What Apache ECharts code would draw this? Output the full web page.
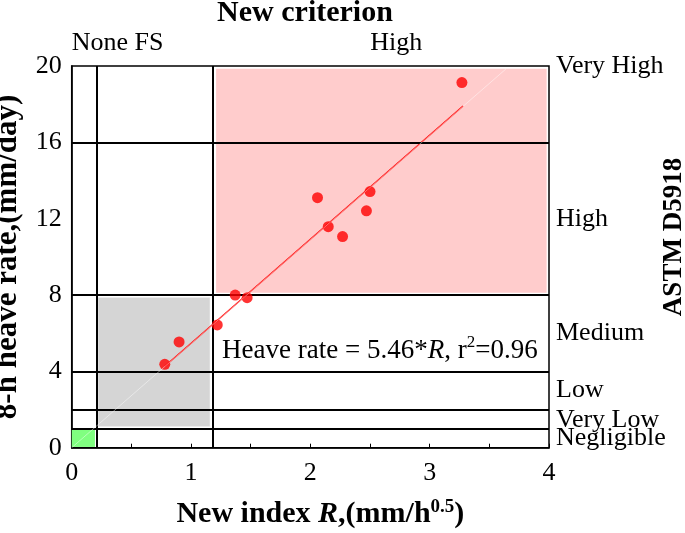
<!DOCTYPE html>
<html><head><meta charset="utf-8">
<script src="https://cdn.jsdelivr.net/npm/echarts@6/dist/echarts.min.js"></script>
<style>html,body{margin:0;padding:0;background:#fff}#c{width:685px;height:533px}</style>
</head><body><div id="c"></div>
<script>
// ---- data ----
const indexR    = [0.78, 0.90, 1.22, 1.37, 1.47, 2.06, 2.15, 2.27, 2.47, 2.50, 3.27];
const heaveRate = [4.37, 5.54, 6.43, 8.00, 7.86, 13.10, 11.58, 11.06, 12.41, 13.42, 19.13];
const fitX = [0.78, 3.28];
const fitY = [4.27, 17.91];
const guideX = [0.0, 3.64];
const guideY = [0.0, 19.85];
const xTicks = [0, 1, 2, 3, 4];
const yTicks = [0, 4, 8, 12, 16, 20];
const astmBounds = [1, 2, 4, 8, 16];
const criterionBounds = [0.21, 1.18];
const astmClasses = ['Very High', 'High', 'Medium', 'Low', 'Very Low', 'Negligible'];
const astmLabelY  = [20, 12, 6, 3, 1.45, 0.5];
const criterionClasses = ['None FS', 'High'];
const criterionLabelX  = [0, 2.72];
const highZoneX  = [1.21, 3.98];
const highZoneY  = [8.12, 19.85];
const grayZoneX  = [0.22, 1.16];
const grayZoneY  = [1.10, 7.88];
const greenZoneX = [0.0, 0.195];
const greenZoneY = [0.04, 0.93];
const eqPos = [1.26, 5.17];

const FONT = 'Liberation Serif';
const chart = echarts.init(document.getElementById('c'), null, {renderer: 'canvas'});

function area(xs, ys) { return [[{coord: [xs[0], ys[0]]}, {coord: [xs[1], ys[1]]}]]; }

const option = {
  animation: false,
  backgroundColor: '#fff',
  title: {
    text: 'New criterion', left: 305, top: -2, textAlign: 'center', padding: 0,
    textStyle: {fontFamily: FONT, fontSize: 30, fontWeight: 'bold', color: '#000'}
  },
  grid: {left: 71.7, right: 136, top: 66, bottom: 85.3, show: true, borderColor: '#000', borderWidth: 1.5,
    backgroundColor: 'transparent', containLabel: false, outerBoundsMode: 'none'},
  xAxis: {
    type: 'value', min: 0, max: 4, interval: 0.5,
    axisLine: {show: true, lineStyle: {color: '#000', width: 1.5}},
    axisTick: {show: true, inside: true, length: 4, lineStyle: {color: '#000', width: 1}},
    splitLine: {show: false},
    axisLabel: {
      interval: 0, margin: 12, color: '#000', fontFamily: FONT, fontSize: 26,
      formatter: v => xTicks.includes(v) ? String(v) : ''
    },
    name: '{b|New index }{bi|R}{b|,(mm/h}{sup|0.5}{b|)}',
    nameLocation: 'middle', nameGap: 50,
    nameTextStyle: {
      color: '#000', padding: [0, 0, 0, 20],
      rich: {
        b:   {fontFamily: FONT, fontSize: 30, fontWeight: 'bold', color: '#000', lineHeight: 32, verticalAlign: 'bottom'},
        bi:  {fontFamily: FONT, fontSize: 30, fontWeight: 'bold', fontStyle: 'italic', color: '#000', lineHeight: 32, verticalAlign: 'bottom'},
        sup: {fontFamily: FONT, fontSize: 19, fontWeight: 'bold', color: '#000', lineHeight: 32, verticalAlign: 'top'}
      }
    }
  },
  yAxis: {
    type: 'value', min: 0, max: 20, interval: 4,
    axisLine: {show: true, lineStyle: {color: '#000', width: 1.5}},
    axisTick: {show: false},
    splitLine: {show: false},
    axisLabel: {margin: 10, color: '#000', fontFamily: FONT, fontSize: 26,
      formatter: v => yTicks.includes(v) ? String(v) : ''},
    name: '8-h heave rate,(mm/day)', nameLocation: 'middle', nameGap: 48, nameRotate: 90,
    nameTextStyle: {fontFamily: FONT, fontSize: 31, fontWeight: 'bold', color: '#000'}
  },
  series: [
    {
      name: 'green', type: 'scatter', data: [], z: 1, silent: true,
      markArea: {silent: true, itemStyle: {color: '#80ff80'}, data: area(greenZoneX, greenZoneY)}
    },
    {
      name: 'bounds', type: 'scatter', data: [], z: 2, silent: true,
      markLine: {
        silent: true, symbol: 'none', label: {show: false},
        lineStyle: {color: '#000', width: 2, type: 'solid'},
        data: astmBounds.map(v => ({yAxis: v})).concat(criterionBounds.map(v => ({xAxis: v})))
      }
    },
    {
      name: 'highZone', type: 'scatter', data: [], z: 3, silent: true,
      markArea: {silent: true, itemStyle: {color: 'rgba(255,0,0,0.2)'}, data: area(highZoneX, highZoneY)}
    },
    {
      name: 'fit', type: 'line', z: 4, symbol: 'none', silent: true,
      lineStyle: {color: '#ff0000', width: 1.3},
      data: fitX.map((x, i) => [x, fitY[i]])
    },
    {
      name: 'data', type: 'scatter', z: 5, symbol: 'circle', symbolSize: 11,
      itemStyle: {color: '#ff0000'},
      data: indexR.map((x, i) => [x, heaveRate[i]])
    },
    {
      name: 'grayZone', type: 'scatter', data: [], z: 6, silent: true,
      markArea: {silent: true, itemStyle: {color: 'rgba(154,156,155,0.42)', borderColor: 'rgba(255,255,255,0.5)', borderWidth: 1}, data: area(grayZoneX, grayZoneY)}
    },
    {
      name: 'guide', type: 'line', z: 7, symbol: 'none', silent: true,
      lineStyle: {color: 'rgba(255,255,255,0.45)', width: 1},
      data: guideX.map((x, i) => [x, guideY[i]])
    }
  ]
};
chart.setOption(option);

const px = (x, y) => chart.convertToPixel({gridIndex: 0}, [x, y]);
const graphics = [];
const xRight = px(4, 0)[0];
astmClasses.forEach((t, i) => {
  const p = px(4, astmLabelY[i]);
  graphics.push({type: 'text', x: xRight + 7, y: p[1], z: 100,
    style: {text: t, font: '26px "' + FONT + '"', fill: '#000', textAlign: 'left', textVerticalAlign: 'middle'}});
});
const yTop = px(0, 20)[1];
criterionClasses.forEach((t, i) => {
  const p = px(criterionLabelX[i], 20);
  graphics.push({type: 'text', x: p[0], y: yTop - 23, z: 100,
    style: {text: t, font: '26px "' + FONT + '"', fill: '#000', textAlign: i === 0 ? 'left' : 'center', textVerticalAlign: 'middle'}});
});
const pe = px(eqPos[0], eqPos[1]);
graphics.push({type: 'text', x: pe[0], y: pe[1], z: 100,
  style: {
    text: '{a|Heave rate = 5.46*}{i|R}{a|, r}{s|2}{a|=0.96}',
    textAlign: 'left', textVerticalAlign: 'middle',
    rich: {
      a: {fontFamily: FONT, fontSize: 27, fill: '#000', color: '#000', lineHeight: 30, verticalAlign: 'bottom'},
      i: {fontFamily: FONT, fontSize: 27, fontStyle: 'italic', fill: '#000', color: '#000', lineHeight: 30, verticalAlign: 'bottom'},
      s: {fontFamily: FONT, fontSize: 17, fill: '#000', color: '#000', lineHeight: 30, verticalAlign: 'top'}
    }
  }});
graphics.push({type: 'text', x: 674, y: 237, rotation: Math.PI / 2, z: 100,
  style: {text: 'ASTM D5918', font: 'bold 27px "' + FONT + '"', fill: '#000', textAlign: 'center', textVerticalAlign: 'middle'}});
chart.setOption({graphic: graphics});
</script>
</body></html>
